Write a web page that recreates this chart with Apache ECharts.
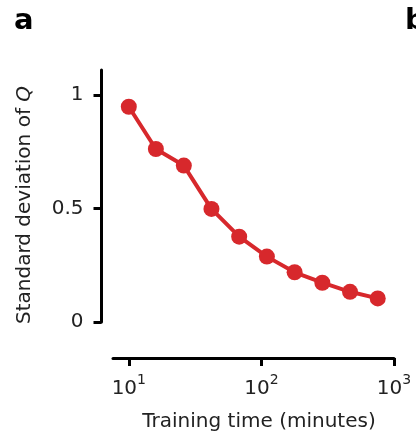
<!DOCTYPE html>
<html>
<head>
<meta charset="utf-8">
<script src="https://cdn.jsdelivr.net/npm/echarts@6/dist/echarts.min.js"></script>
<style>
  html, body { margin: 0; padding: 0; background: #fff; }
  #chart { width: 416px; height: 438px; }
</style>
</head>
<body>
<div id="chart"></div>
<script>
// Training time (minutes) and the standard deviation of Q at each checkpoint
const trainingMinutes = [10, 16, 26, 42, 68, 110, 178, 288, 466, 754];
const stdQ = [0.948, 0.762, 0.689, 0.498, 0.376, 0.288, 0.219, 0.173, 0.133, 0.104];
const xTicks = [10, 100, 1000];
const yTicks = [0, 0.5, 1];

const FONT = 'DejaVu Sans';
const INK = '#222';
const RED = '#d7282c';

const chart = echarts.init(document.getElementById('chart'), null, { renderer: 'canvas' });

chart.setOption({
  animation: false,
  backgroundColor: '#fff',
  grid: { left: 113, right: 22, top: 70, bottom: 116, containLabel: false },
  graphic: [
    { type: 'text', left: 14, top: 7, style: { text: 'a', font: 'bold 29px "DejaVu Sans"', fill: '#000' } },
    { type: 'text', left: 405, top: 7, style: { text: 'b', font: 'bold 29px "DejaVu Sans"', fill: '#000' } }
  ],
  xAxis: {
    type: 'log',
    logBase: 10,
    min: 7.6,
    max: 1000,
    offset: 36,
    name: 'Training time (minutes)',
    nameLocation: 'middle',
    nameGap: 54,
    nameTextStyle: { fontFamily: FONT, fontSize: 20, color: INK, padding: [0, 0, 0, 11] },
    axisLine: { show: true, onZero: false, lineStyle: { color: '#000', width: 3 } },
    axisTick: { show: true, inside: false, length: 8, lineStyle: { color: '#000', width: 3 }, customValues: xTicks },
    axisLabel: {
      customValues: xTicks,
      margin: 15,
      formatter: function (v) {
        const e = Math.round(Math.log10(v));
        return '{b|10}{s|' + e + '}';
      },
      rich: {
        b: { fontFamily: FONT, fontSize: 20, color: INK, lineHeight: 26, verticalAlign: 'bottom' },
        s: { fontFamily: FONT, fontSize: 14, color: INK, lineHeight: 14, verticalAlign: 'top' }
      }
    },
    splitLine: { show: false }
  },
  yAxis: {
    type: 'value',
    min: 0,
    max: 1.11,
    offset: 11.5,
    name: 'Standard deviation of {q|Q}',
    nameLocation: 'middle',
    nameGap: 67,
    nameRotate: 90,
    nameTextStyle: {
      fontFamily: FONT, fontSize: 20, color: INK, padding: [0, 18, 0, 0],
      rich: { q: { fontFamily: FONT, fontSize: 20, color: INK, fontStyle: 'italic' } }
    },
    axisLine: { show: true, onZero: false, lineStyle: { color: '#000', width: 3 } },
    axisTick: { show: true, inside: false, length: 8, lineStyle: { color: '#000', width: 3 }, customValues: yTicks },
    axisLabel: {
      customValues: yTicks,
      margin: 18,
      fontFamily: FONT, fontSize: 20, color: INK,
      formatter: function (v) { return String(v); }
    },
    splitLine: { show: false }
  },
  series: [{
    type: 'line',
    data: trainingMinutes.map((t, i) => [t, stdQ[i]]),
    symbol: 'circle',
    symbolSize: 16,
    lineStyle: { color: RED, width: 4 },
    itemStyle: { color: RED },
    z: 3
  }]
});
</script>
</body>
</html>
